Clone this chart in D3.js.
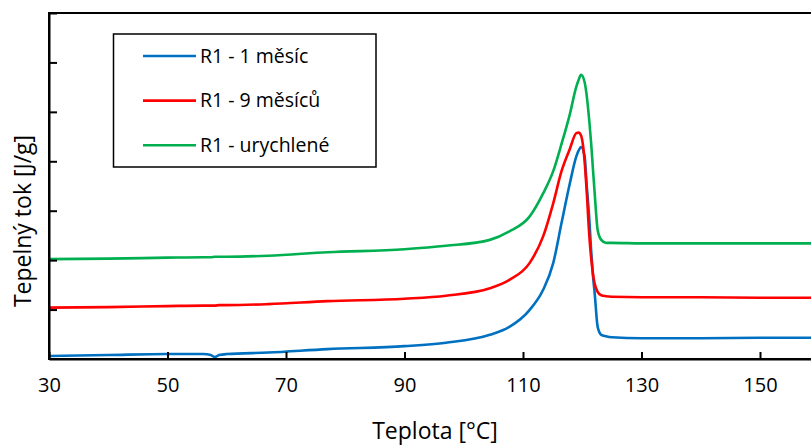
<!DOCTYPE html>
<html>
<head>
<meta charset="utf-8">
<script src="https://cdn.jsdelivr.net/npm/d3@7"></script>
<style>
  body { margin: 0; background: #fff; }
  text { font-family: "Open Sans", "Noto Sans", sans-serif; fill: #000; }
</style>
</head>
<body>
<script>
// temperature grid [°C]
var temps = [30, 40, 50, 56, 57.3, 58, 58.7, 60, 67, 77, 90, 97, 104.4, 107.7, 111.1, 113.4, 115.1, 116.5, 117.9, 119.0, 119.4, 119.8, 120.4, 120.7, 121.2, 121.5, 121.8, 122.1, 122.6, 123.2, 124.0, 125, 130, 140, 150, 160];

// heat flow (arbitrary units)
var r1Month1 = [0.06, 0.08, 0.10, 0.10, 0.08, 0.04, 0.08, 0.10, 0.13, 0.20, 0.26, 0.33, 0.49, 0.65, 0.99, 1.40, 1.94, 2.75, 3.55, 4.10, 4.22, 4.29, 4.10, 3.60, 2.81, 2.20, 1.70, 1.33, 0.65, 0.49, 0.46, 0.44, 0.42, 0.42, 0.43, 0.43];
var r1Month9 = [1.04, 1.05, 1.07, 1.08, 1.08, 1.08, 1.09, 1.09, 1.11, 1.17, 1.22, 1.28, 1.43, 1.60, 1.94, 2.48, 3.15, 3.80, 4.25, 4.57, 4.58, 4.52, 4.00, 3.49, 2.48, 2.05, 1.73, 1.52, 1.36, 1.29, 1.27, 1.26, 1.25, 1.25, 1.24, 1.24];
var r1Fast = [2.02, 2.03, 2.05, 2.06, 2.06, 2.07, 2.07, 2.07, 2.09, 2.16, 2.22, 2.29, 2.41, 2.58, 2.88, 3.35, 3.80, 4.35, 4.95, 5.51, 5.65, 5.75, 5.60, 5.38, 4.80, 4.37, 3.85, 3.35, 2.61, 2.41, 2.35, 2.35, 2.34, 2.34, 2.34, 2.34];

var seriesNames = ["R1 - 1 měsíc", "R1 - 9 měsíců", "R1 - urychlené"];
var seriesColors = ["#0070C0", "#FF0000", "#00B050"];
var xTicks = [30, 50, 70, 90, 110, 130, 150];
var yTicks = [1, 2, 3, 4, 5, 6, 7];

var series = [r1Month1, r1Month9, r1Fast].map(function (vals, i) {
    return {
        name: seriesNames[i],
        color: seriesColors[i],
        points: temps.map(function (t, j) { return [t, vals[j]]; })
    };
});

var width = 811, height = 445;
var margin = { top: 13, left: 49, bottom: 86 };

var svg = d3.select("body").append("svg")
    .attr("width", width)
    .attr("height", height);

var x = d3.scaleLinear().domain([30, 160]).range([margin.left, margin.left + 130 * 5.925]);
var y = d3.scaleLinear().domain([0, 7]).range([height - margin.bottom, margin.top]);

// clip to plot area
svg.append("clipPath").attr("id", "plot")
    .append("rect")
    .attr("x", x(30)).attr("y", y(7))
    .attr("width", x(160) - x(30)).attr("height", y(0) - y(7));

var line = d3.line()
    .x(function (d) { return x(d[0]); })
    .y(function (d) { return y(d[1]); })
    .curve(d3.curveMonotoneX);

svg.append("g").attr("clip-path", "url(#plot)")
    .selectAll("path")
    .data(series)
    .enter()
    .append("path")
    .attr("d", function (d) { return line(d.points); })
    .attr("fill", "none")
    .attr("stroke", function (d) { return d.color; })
    .attr("stroke-width", 2.6)
    .attr("stroke-linejoin", "round");

// frame
svg.append("rect")
    .attr("x", x(30)).attr("y", y(7))
    .attr("width", x(160) - x(30)).attr("height", y(0) - y(7))
    .attr("fill", "none")
    .attr("stroke", "#000")
    .attr("stroke-width", 2);

// axes, ticks point inwards
var bottomAxis = d3.axisBottom(x).tickValues(xTicks).tickSizeInner(-7).tickSizeOuter(0).tickPadding(19);
var gx = svg.append("g")
    .attr("transform", "translate(0," + y(0) + ")")
    .call(bottomAxis);
gx.select(".domain").attr("stroke-width", 2);
gx.selectAll(".tick line").attr("stroke-width", 2);
gx.selectAll("text").attr("font-size", "20px");

var leftAxis = d3.axisLeft(y).tickValues(yTicks).tickSizeInner(-8).tickSizeOuter(0).tickFormat("");
var gy = svg.append("g")
    .attr("transform", "translate(" + x(30) + ",0)")
    .call(leftAxis);
gy.select(".domain").attr("stroke-width", 2);
gy.selectAll(".tick line").attr("stroke-width", 2);

// axis titles
svg.append("text")
    .attr("x", 435)
    .attr("y", 439)
    .attr("text-anchor", "middle")
    .attr("font-size", "23px")
    .text("Teplota [°C]");

svg.append("text")
    .attr("transform", "translate(31," + 221 + ") rotate(-90)")
    .attr("text-anchor", "middle")
    .attr("font-size", "23px")
    .text("Tepelný tok [J/g]");

// legend
var legend = svg.append("g");
legend.append("rect")
    .attr("x", 113.5).attr("y", 34)
    .attr("width", 262.5).attr("height", 133)
    .attr("fill", "#fff")
    .attr("stroke", "#000")
    .attr("stroke-width", 1.5);

var rows = legend.selectAll("g.row")
    .data(series)
    .enter()
    .append("g")
    .attr("class", "row")
    .attr("transform", function (d, i) { return "translate(0," + (56 + i * 44.6) + ")"; });
rows.append("line")
    .attr("x1", 143).attr("x2", 196)
    .attr("stroke", function (d) { return d.color; })
    .attr("stroke-width", 2.6);
rows.append("text")
    .attr("x", 200)
    .attr("dy", "0.35em")
    .attr("font-size", "19.5px")
    .text(function (d) { return d.name; });
</script>
</body>
</html>
